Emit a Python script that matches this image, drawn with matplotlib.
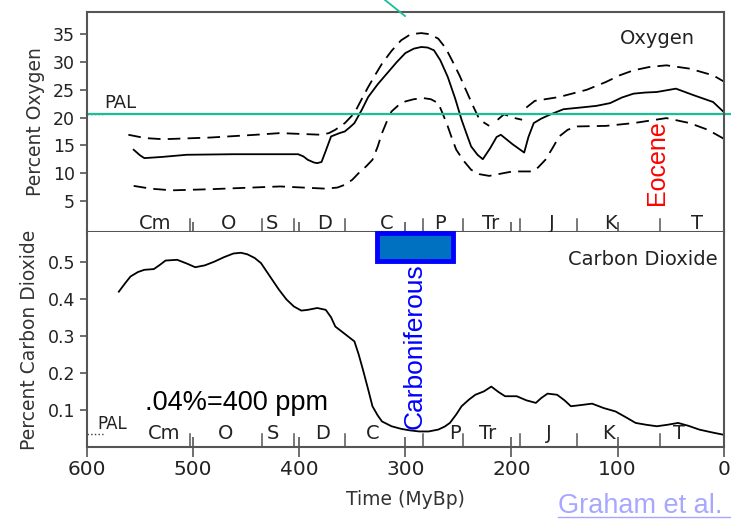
import numpy as np
import matplotlib.pyplot as plt
from matplotlib.patches import Rectangle
from matplotlib.lines import Line2D

# ---- data ----
# oxygen, % (time in MyBp)
o2_time = [556, 550, 546, 530, 506, 462, 420, 401, 396, 392, 386, 383, 379, 375,
           370, 362, 357, 352, 348, 341, 335, 326, 317, 308, 300, 292, 285, 279,
           273, 267, 260, 253, 247, 242, 238, 232, 227, 220, 214, 210, 199, 188,
           184, 179, 172, 164, 151, 135, 120, 107, 96, 85, 74, 63, 45, 28, 10, 0]
o2_mid = [14.2, 13.2, 12.7, 12.9, 13.3, 13.4, 13.4, 13.4, 13.0, 12.4, 11.9, 11.8,
          12.0, 14.0, 16.6, 17.2, 17.5, 18.3, 19.0, 21.4, 23.7, 26.0, 28.0, 30.0,
          31.6, 32.4, 32.7, 32.6, 32.1, 30.3, 27.3, 23.4, 19.6, 16.9, 14.8, 13.3,
          12.5, 14.5, 16.5, 16.9, 15.2, 13.7, 16.5, 19.0, 19.8, 20.5, 21.5, 21.8,
          22.1, 22.6, 23.6, 24.3, 24.5, 24.6, 25.2, 24.0, 22.8, 21.0]

o2_hi_time = [561, 545, 528, 484, 441, 418, 379, 372, 366, 357, 348, 342, 335,
              328, 322, 313, 304, 295, 285, 277, 269, 262, 256, 249, 243, 236,
              230, 221]
o2_hi = [16.9, 16.3, 16.1, 16.4, 16.9, 17.2, 16.9, 17.2, 17.8, 19.0, 20.8, 23.0,
         25.5, 27.8, 29.7, 32.0, 33.9, 35.0, 35.2, 35.0, 34.2, 32.5, 30.3, 27.6,
         25.0, 22.0, 19.6, 18.5]
o2_hi2_time = [213, 207, 199, 190]
o2_hi2 = [19.6, 20.6, 20.0, 19.6]
o2_hi3_time = [186, 178, 155, 129, 111, 98, 85, 70, 54, 32, 10, 0]
o2_hi3 = [21.8, 23.0, 23.7, 25.0, 26.4, 27.6, 28.5, 29.1, 29.4, 28.8, 27.6, 26.5]

o2_lo_time = [556, 540, 520, 484, 418, 375, 364, 357, 350, 344, 337, 331, 326,
              322, 317, 313, 306, 300, 292, 283, 276, 269, 265, 260, 256, 252,
              245, 238, 230, 221, 210, 199, 181, 175, 168, 161, 155, 147, 138,
              111, 85, 54, 32, 15, 0]
o2_lo = [7.7, 7.2, 6.9, 7.1, 7.6, 7.2, 7.4, 7.9, 8.8, 10.0, 11.2, 12.4, 14.8,
         17.2, 19.5, 21.1, 22.3, 22.9, 23.3, 23.5, 23.3, 22.6, 20.8, 18.4, 16.2,
         14.2, 12.2, 10.6, 9.8, 9.5, 9.9, 10.3, 10.3, 11.0, 12.4, 14.6, 16.6,
         17.8, 18.4, 18.5, 19.0, 19.9, 19.0, 17.8, 16.2]

# carbon dioxide, %
co2_time = [570, 564, 559, 552, 546, 537, 531, 526, 515, 506, 498, 489, 480, 471,
            462, 455, 449, 442, 436, 428, 419, 412, 405, 398, 392, 383, 375, 370,
            366, 357, 348, 344, 340, 335, 331, 326, 322, 313, 304, 296, 287, 278,
            269, 263, 258, 252, 247, 240, 234, 226, 219, 212, 206, 195, 186, 177,
            172, 166, 157, 150, 144, 135, 124, 113, 102, 92, 83, 73, 63, 53, 43,
            33, 23, 12, 0]
co2 = [0.419, 0.442, 0.46, 0.472, 0.478, 0.48, 0.492, 0.503, 0.505, 0.495, 0.485,
       0.49, 0.50, 0.512, 0.522, 0.524, 0.52, 0.51, 0.496, 0.462, 0.424, 0.398,
       0.379, 0.368, 0.37, 0.375, 0.37, 0.35, 0.325, 0.305, 0.285, 0.25, 0.209,
       0.155, 0.11, 0.085, 0.069, 0.056, 0.049, 0.045, 0.042, 0.042, 0.047,
       0.055, 0.065, 0.088, 0.11, 0.128, 0.141, 0.150, 0.163, 0.148, 0.137,
       0.137, 0.126, 0.119, 0.132, 0.144, 0.141, 0.126, 0.110, 0.113, 0.117,
       0.105, 0.096, 0.080, 0.065, 0.060, 0.056, 0.060, 0.065, 0.057, 0.047,
       0.040, 0.033]

o2_pal = 20.7
co2_pal = 0.035

# geologic periods
period_bounds = [503, 435, 405, 357, 283, 246, 192, 138, 60]
periods = ["Cm", "O", "S", "D", "C", "P", "Tr", "J", "K", "T"]
period_pos_top = [536, 467, 426, 376, 318, 267, 220, 162, 107, 25]
period_pos_bot = [527, 469, 425, 378, 331, 253, 222, 165, 109, 42]

carb_span = (327, 255)

grey = "#555555"
plt.rcParams['font.family'] = 'DejaVu Sans'

fig = plt.figure(figsize=(7.31, 5.21), dpi=100)
ax1 = fig.add_axes([0.119, 0.5547, 0.871, 0.4223])
ax2 = fig.add_axes([0.119, 0.142, 0.871, 0.4127])

dash = (0, (7, 4))
ax1.plot(o2_time, o2_mid, color="black", lw=1.3)
for t, v in [(o2_hi_time, o2_hi), (o2_hi2_time, o2_hi2), (o2_hi3_time, o2_hi3),
             (o2_lo_time, o2_lo)]:
    ax1.plot(t, v, color="black", lw=1.3, linestyle=dash)

ax2.plot(co2_time, co2, color="black", lw=1.3)

for ax in (ax1, ax2):
    ax.set_xlim(600, 0)
    ax.set_xticks([600, 500, 400, 300, 200, 100, 0])
    for s in ax.spines.values():
        s.set_color(grey)
        s.set_linewidth(1.5)
    ax.tick_params(axis="x", direction="inout", length=14, width=1.2, color=grey)
    ax.tick_params(axis="y", direction="out", length=5, width=1.2, color=grey,
                   labelsize=12.5, labelcolor="#222222")
    for b in period_bounds:
        ax.plot([b, b], [0.0, 0.06], transform=ax.get_xaxis_transform(),
                color=grey, lw=1.1)

ax1.set_ylim(-0.6, 39)
ax1.set_yticks([5, 10, 15, 20, 25, 30, 35])
ax1.tick_params(axis="x", labelbottom=False)
ax1.set_ylabel("Percent Oxygen", fontsize=13.5, color="#333333", labelpad=6)

ax2.set_ylim(0, 0.58)
ax2.set_yticks([0.1, 0.2, 0.3, 0.4, 0.5])
ax2.set_yticklabels(["0.1", "0.2", "0.3", "0.4", "0.5"])
ax2.tick_params(axis="x", labelsize=14.5, labelcolor="#222222", pad=2)
ax2.set_ylabel("Percent Carbon Dioxide", fontsize=13.5, color="#333333",
               labelpad=6)
ax2.set_xlabel("Time (MyBp)", fontsize=13.5, color="#333333", labelpad=8)
ax2.spines["top"].set_visible(False)

for name, t in zip(periods, period_pos_top):
    ax1.text(t, 0.04, name, transform=ax1.get_xaxis_transform(), ha="center",
             va="center", fontsize=14, color="#222222")
for name, t in zip(periods, period_pos_bot):
    ax2.text(t, 0.065, name, transform=ax2.get_xaxis_transform(), ha="center",
             va="center", fontsize=14, color="#222222")

ax1.text(0.955, 0.88, "Oxygen", transform=ax1.transAxes, ha="right",
         va="center", fontsize=14, color="#222222")
ax2.text(0.99, 0.87, "Carbon Dioxide", transform=ax2.transAxes, ha="right",
         va="center", fontsize=14, color="#222222")

# PAL markers
ax1.plot([600, 585], [o2_pal, o2_pal], color="#333333", lw=1, ls=":")
ax1.text(584, o2_pal + 0.3, "PAL", ha="left", va="bottom", fontsize=13,
         color="#222222")
ax2.plot([600, 585], [co2_pal, co2_pal], color="#333333", lw=1, ls=":")
ax2.text(590, co2_pal + 0.003, "PAL", ha="left", va="bottom", fontsize=12,
         color="#222222")

# teal present-level line running to the figure edge
ax1.add_line(Line2D([600, -6], [o2_pal, o2_pal], color="#1ABF96", lw=1.6,
                    clip_on=False))
fig.add_artist(Line2D([385 / 731, 405 / 731], [1.0, 1 - 16 / 521],
                      color="#1ABF96", lw=1.3))

ax1.text(63, 19.6, "Eocene", rotation=90, ha="center", va="top", fontsize=18,
         color="red", family="Liberation Sans")

# Carboniferous box + label
ax2.add_patch(Rectangle((carb_span[1], 0.503), carb_span[0] - carb_span[1], 0.073,
                        facecolor="#0070C0", edgecolor="#0000FF", lw=3.5,
                        clip_on=False, zorder=5))
ax2.text(291, 0.495, "Carboniferous", rotation=90, ha="center", va="top",
         fontsize=19, color="#0000FF", family="Liberation Sans")

ax2.text(545, 0.12, ".04%=400 ppm", ha="left", va="center", fontsize=19.5,
         color="black", family="Liberation Sans")

# reference link
fig.text(558 / 731, 1 - 506 / 521, "Graham et al.", ha="left", va="center",
         fontsize=19.5, color="#A7A7FF", family="Liberation Sans")
fig.add_artist(Line2D([558 / 731, 1.0], [1 - 517 / 521, 1 - 517 / 521],
                      color="#A7A7FF", lw=1.0))

fig.savefig("out.png", dpi=100)
